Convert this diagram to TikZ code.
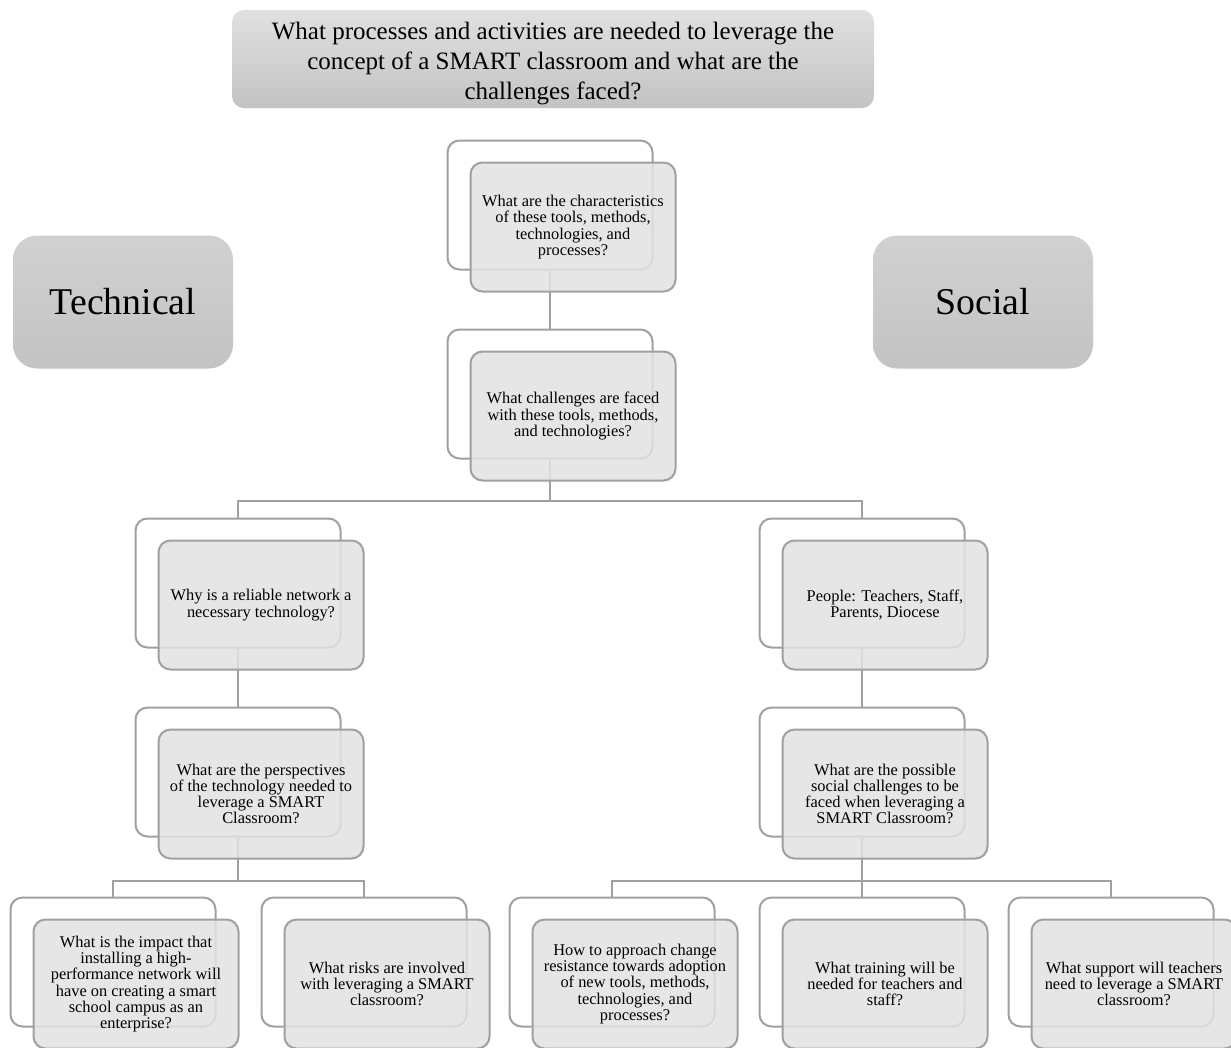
\documentclass[tikz,border=0pt]{standalone}
\usepackage{fontspec}
\setmainfont{Liberation Serif}
\usepackage{tikz}
\usetikzlibrary{positioning, backgrounds}

\definecolor{edgegray}{HTML}{A0A0A0}
\definecolor{frontfill}{HTML}{E2E2E2}

\begin{document}
\begin{tikzpicture}[
    x=1pt, y=-1pt,
    back/.style={draw=edgegray, line width=2pt, rounded corners=12pt,
                 fill=white, minimum width=205pt, minimum height=129pt},
    front/.style={draw=edgegray, line width=2pt, rounded corners=12pt,
                  fill=frontfill, fill opacity=0.85, text opacity=1,
                  draw opacity=1, minimum width=205pt, minimum height=129pt,
                  align=center, inner sep=2pt,
                  font=\fontsize{16.4}{16.2}\selectfont},
    head/.style={rounded corners=12pt, top color=gray!24, bottom color=gray!47,
                 align=center},
    side/.style={rounded corners=24pt, top color=gray!36, bottom color=gray!47,
                 minimum width=220pt, minimum height=133pt,
                 font=\fontsize{37.8}{40}\selectfont},
    link/.style={draw=edgegray, line width=2pt},
  ]
  \useasboundingbox (0,0) rectangle (1231,1047);

  % ============ Title ============
  \node[head, minimum width=642pt, minimum height=96pt,
        font=\fontsize{25}{30}\selectfont] (title) at (553,59)
    {\rule{0pt}{26pt}What processes and activities are needed to leverage the\\
     concept of a SMART classroom and what are the\\
     challenges faced?};

  \node[side] (tech) at (123,302) {Technical};
  \node[side] (soci) at (983,302) {Social};

  % ============ Center column ============
  \node[back] (charb) at (550,205) {};
  \node[front] (char) at (573,227)
    {What are the characteristics\\of these tools, methods,\\technologies, and\\processes?};

  \node[back] (chalb) at (550,394) {};
  \node[front] (chal) at (573,416)
    {What challenges are faced\\with these tools, methods,\\and technologies?};

  % ============ Row 2 ============
  \node[back] (netb) at (238,583) {};
  \node[front] (net) at (261,605)
    {Why is a reliable network a\\necessary technology?};

  \node[back] (pplb) at (862,583) {};
  \node[front] (ppl) at (885,605)
    {People: Teachers, Staff,\\Parents, Diocese};

  % ============ Row 3 ============
  \node[back] (perspb) at (238,772) {};
  \node[front] (persp) at (261,794)
    {What are the perspectives\\of the technology needed to\\leverage a SMART\\Classroom?};

  \node[back] (socb) at (862,772) {};
  \node[front] (soc) at (885,794)
    {What are the possible\\social challenges to be\\faced when leveraging a\\SMART Classroom?};

  % ============ Row 4 ============
  \node[back] (impb) at (113,962) {};
  \node[front] (imp) at (136,984)
    {What is the impact that\\installing a high-\\performance network will\\have on creating a smart\\school campus as an\\enterprise?};

  \node[back] (riskb) at (364,962) {};
  \node[front] (risk) at (387,984)
    {What risks are involved\\with leveraging a SMART\\classroom?};

  \node[back] (resb) at (612,962) {};
  \node[front] (res) at (635,984)
    {How to approach change\\resistance towards adoption\\of new tools, methods,\\technologies, and\\processes?};

  \node[back] (trainb) at (862,962) {};
  \node[front] (train) at (885,984)
    {What training will be\\needed for teachers and\\staff?};

  \node[back] (suppb) at (1111,962) {};
  \node[front] (supp) at (1134,984)
    {What support will teachers\\need to leverage a SMART\\classroom?};

  % ======== CONNECTIONS ========
  \begin{scope}[on background layer]
    \draw[link] (charb.south) -- (chalb.north);

    \draw[link] (chalb.south) -- ++(0,41) coordinate (chalfork);
    \draw[link] (chalfork) -| (netb.north);
    \draw[link] (chalfork) -| (pplb.north);

    \draw[link] (netb.south) -- (perspb.north);
    \draw[link] (pplb.south) -- (socb.north);

    \draw[link] (perspb.south) -- ++(0,43) coordinate (perspfork);
    \draw[link] (perspfork) -| (impb.north);
    \draw[link] (perspfork) -| (riskb.north);

    \draw[link] (socb.south) -- ++(0,43) coordinate (socfork);
    \draw[link] (socfork) -| (resb.north);
    \draw[link] (socfork) -| (trainb.north);
    \draw[link] (socfork) -| (suppb.north);
  \end{scope}

\end{tikzpicture}
\end{document}
